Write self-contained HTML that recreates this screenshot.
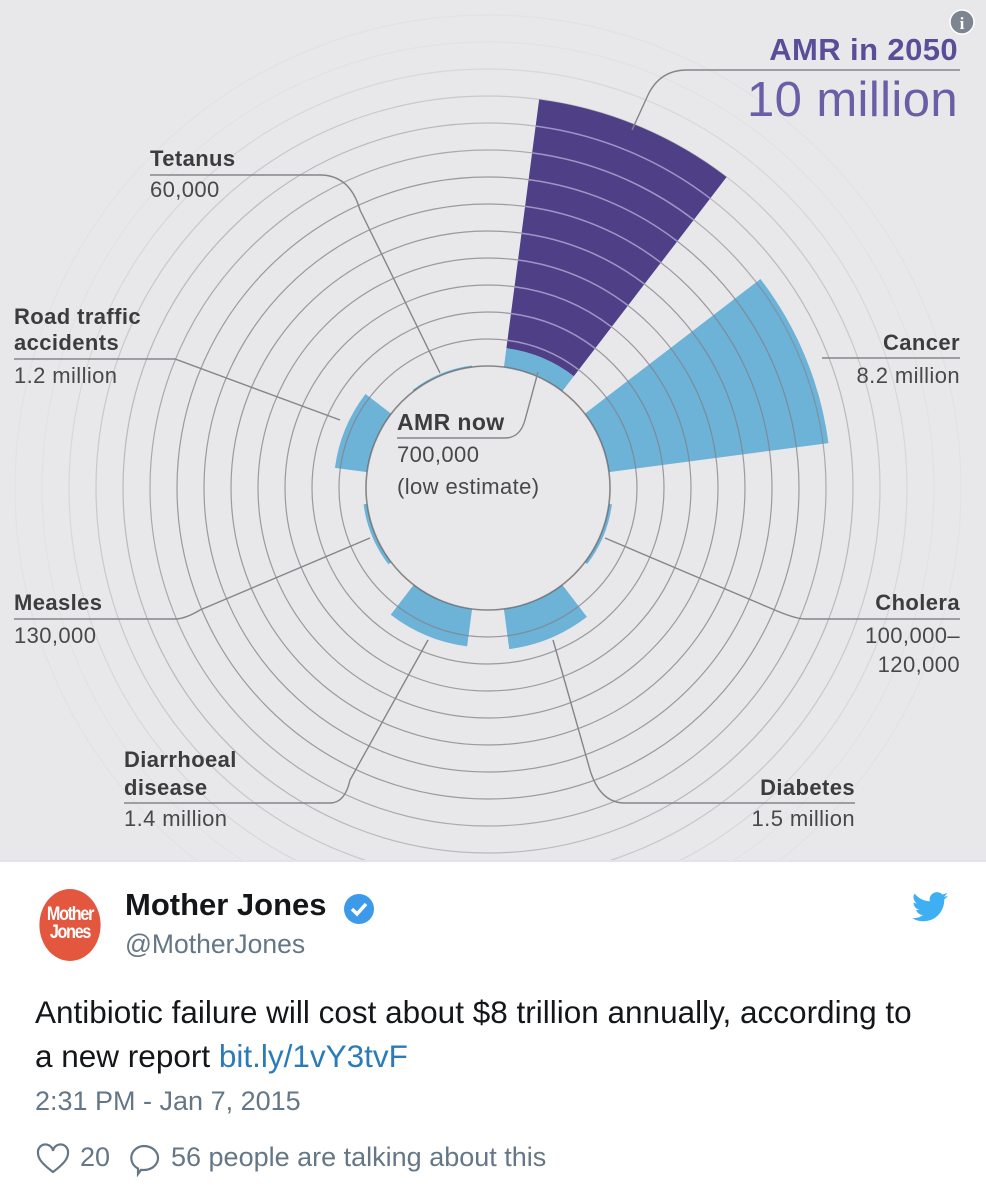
<!DOCTYPE html>
<html><head><meta charset="utf-8">
<style>
body{margin:0;width:986px;height:1192px;background:#fff;font-family:"Liberation Sans",sans-serif;overflow:hidden}
#chart{position:absolute;left:0;top:0;width:986px;height:860px;background:#e8e8ea;border-bottom:2px solid #e1e4e8}
.tw{position:absolute;font-family:"Liberation Sans",sans-serif;white-space:nowrap}
</style></head><body>
<div id="chart">
<svg id="svg" width="986" height="860"></svg>
</div>
<div class="tw" style="left:34px;top:889px;width:72px;height:72px;border-radius:50%;background:#e4573f;color:#fff;font-weight:bold;font-size:19px;line-height:18px;text-align:center;letter-spacing:-1.5px;padding-top:17px;box-sizing:border-box;transform:scaleX(0.85)">Mother<br>Jones</div>
<div class="tw" style="left:125px;top:887px;font-size:31px;font-weight:bold;color:#14171a">Mother Jones</div>
<svg class="tw" style="left:343px;top:893px" width="32" height="32" viewBox="0 0 32 32"><circle cx="16" cy="16" r="15" fill="#3d9ae8"/><path d="M9 16l5 5 9-10" stroke="#fff" stroke-width="3.5" fill="none"/></svg>
<div class="tw" style="left:125px;top:929px;font-size:26.5px;color:#657786">@MotherJones</div>
<svg class="tw" style="left:912px;top:892px" width="36" height="30" viewBox="0 0 24 20"><path d="M24 2.4c-.9.4-1.8.6-2.8.8 1-.6 1.8-1.6 2.2-2.7-1 .6-2 1-3.1 1.2A4.9 4.9 0 0 0 11.9 6.2 14 14 0 0 1 1.7 1 4.9 4.9 0 0 0 3.2 7.6c-.8 0-1.6-.2-2.2-.6 0 2.4 1.7 4.4 3.9 4.8-.7.2-1.5.2-2.2.1.6 2 2.4 3.4 4.6 3.4A9.9 9.9 0 0 1 0 17.3 14 14 0 0 0 7.5 19.5c9.1 0 14-7.5 14-14v-.6c1-.7 1.8-1.6 2.5-2.5z" fill="#1da1f2" opacity="0.85"/></svg>
<div class="tw" style="left:35px;top:990px;font-size:31.5px;line-height:44px;color:#14171a">Antibiotic failure will cost about $8 trillion annually, according to<br>a new report <span style="color:#2b7bb9">bit.ly/1vY3tvF</span></div>
<div class="tw" style="left:35px;top:1086px;font-size:27px;color:#657786">2:31 PM - Jan 7, 2015</div>
<svg class="tw" style="left:36px;top:1143px" width="34" height="32" viewBox="0 0 34 32"><path d="M17 29C5 20 2 15 2 10a7 7 0 0 1 15-2 7 7 0 0 1 15 2c0 5-3 10-15 19z" fill="none" stroke="#657786" stroke-width="2.2"/></svg>
<div class="tw" style="left:80px;top:1142px;font-size:27px;color:#657786">20</div>
<svg class="tw" style="left:128px;top:1143px" width="34" height="34" viewBox="0 0 34 34"><path d="M16 3a14 12 0 1 1 0 24c-1 0-2 0-3-.2L10 31v-5.5A13 12 0 0 1 16 3z" fill="none" stroke="#657786" stroke-width="2.2"/></svg>
<div class="tw" style="left:171px;top:1142px;font-size:27px;color:#657786">56 people are talking about this</div>
<script>
const categories=["AMR in 2050","Cancer","Cholera","Diabetes","Diarrhoeal disease","Measles","Road traffic accidents","Tetanus"];
const values=[10,8.2,0.11,1.5,1.4,0.13,1.2,0.06];
const amrNow=[0.7];
const ringCount=13;
const NS="http://www.w3.org/2000/svg";
const svg=document.getElementById('svg');
const cx=488,cy=488,r0=122,scale=27;
function rad(v){return r0+v*scale;}
function pt(r,a){const t=a*Math.PI/180;return [cx+r*Math.sin(t),cy-r*Math.cos(t)];}
function angC(i){return i*45+22.5;}
function sector(v1,v2,a1,a2){const ri=rad(v1),ro=rad(v2);const p1=pt(ri,a1),p2=pt(ro,a1),p3=pt(ro,a2),p4=pt(ri,a2);
return `M${p1}L${p2}A${ro},${ro} 0 0 1 ${p3}L${p4}A${ri},${ri} 0 0 0 ${p1}Z`;}
function add(tag,attrs){const e=document.createElementNS(NS,tag);for(const k in attrs)e.setAttribute(k,attrs[k]);svg.appendChild(e);return e;}
values.forEach((v,i)=>{
  const a1=angC(i)-15,a2=angC(i)+15;
  if(i===0){
    const e=add('path',{d:sector(amrNow[0],v,a1,a2),fill:'#4e3f86'});
    
    
    const n=add('path',{d:sector(0,amrNow[0],a1,a2),fill:'#6db2d7'});
    
    
  } else {
    const e=add('path',{d:sector(0,v,a1,a2),fill:'#6db2d7'});
    
    
  }
});
for(let k=0;k<=ringCount;k++){
  const op=k<=7?0.75:Math.max(0.06,0.75-(k-7)*0.15);
  const c=add('circle',{cx:cx,cy:cy,r:rad(k),fill:'none',stroke:k===0?'#666':'#808084','stroke-width':k===0?1.6:1.2,opacity:op});
  
  
}
for(let k=1;k<Math.floor(values[0]);k++){
  const r=rad(k),p1=pt(r,angC(0)-15),p2=pt(r,angC(0)+15);
  const e=add('path',{d:`M${p1}A${r},${r} 0 0 1 ${p2}`,fill:'none',stroke:'#9e94c6','stroke-width':1.5});
  
  
}
const leaders=[
 "M960,70 L687,70 Q660,70 648,95 L632,130",
 "M822,358 L960,358",
 "M805,619 L960,619 M805,619 Q795,619 770,608 L605,538",
 "M625,803 L855,803 M625,803 Q600,803 590,770 L553,640",
 "M124,803 L330,803 Q345,803 350,780 L428,640",
 "M14,619 L175,619 Q185,619 200,610 L370,538",
 "M14,359 L175,359 L340,420",
 "M150,175 L320,175 Q350,175 360,210 L440,373",
 "M397,438 L505,438 Q520,438 525,420 L538,372"
];
leaders.forEach(d=>{
  const e=add('path',{d:d,fill:'none',stroke:'#858589','stroke-width':1.4});
  
  
});
const labels=[
 {x:958,y:60,t:"AMR in 2050",s:31,w:'bold',c:'#5a4e98',a:'end',n:'amr-2050-label'},
 {x:958,y:116,t:"10 million",s:49,w:'normal',c:'#6a5ea6',a:'end',n:'amr-2050-value'},
 {x:150,y:166,t:"Tetanus",s:22,w:'bold',c:'#3c3c3e',a:'start',n:'tetanus-label'},
 {x:150,y:197,t:"60,000",s:22,w:'normal',c:'#48484a',a:'start',n:'tetanus-value'},
 {x:14,y:324,t:"Road traffic",s:22,w:'bold',c:'#3c3c3e',a:'start',n:'road-label'},
 {x:14,y:350,t:"accidents",s:22,w:'bold',c:'#3c3c3e',a:'start',n:'road-label-2'},
 {x:14,y:383,t:"1.2 million",s:22,w:'normal',c:'#48484a',a:'start',n:'road-value'},
 {x:960,y:350,t:"Cancer",s:22,w:'bold',c:'#3c3c3e',a:'end',n:'cancer-label'},
 {x:960,y:383,t:"8.2 million",s:22,w:'normal',c:'#48484a',a:'end',n:'cancer-value'},
 {x:397,y:430,t:"AMR now",s:23,w:'bold',c:'#3c3c3e',a:'start',n:'amr-now-label'},
 {x:397,y:462,t:"700,000",s:22,w:'normal',c:'#48484a',a:'start',n:'amr-now-value'},
 {x:397,y:494,t:"(low estimate)",s:22,w:'normal',c:'#48484a',a:'start',n:'amr-now-note'},
 {x:14,y:610,t:"Measles",s:22,w:'bold',c:'#3c3c3e',a:'start',n:'measles-label'},
 {x:14,y:643,t:"130,000",s:22,w:'normal',c:'#48484a',a:'start',n:'measles-value'},
 {x:960,y:610,t:"Cholera",s:22,w:'bold',c:'#3c3c3e',a:'end',n:'cholera-label'},
 {x:960,y:643,t:"100,000–",s:22,w:'normal',c:'#48484a',a:'end',n:'cholera-value'},
 {x:960,y:672,t:"120,000",s:22,w:'normal',c:'#48484a',a:'end',n:'cholera-value-2'},
 {x:124,y:767,t:"Diarrhoeal",s:22,w:'bold',c:'#3c3c3e',a:'start',n:'diarrhoeal-label'},
 {x:124,y:795,t:"disease",s:22,w:'bold',c:'#3c3c3e',a:'start',n:'diarrhoeal-label-2'},
 {x:124,y:826,t:"1.4 million",s:22,w:'normal',c:'#48484a',a:'start',n:'diarrhoeal-value'},
 {x:855,y:795,t:"Diabetes",s:22,w:'bold',c:'#3c3c3e',a:'end',n:'diabetes-label'},
 {x:855,y:826,t:"1.5 million",s:22,w:'normal',c:'#48484a',a:'end',n:'diabetes-value'}
];
labels.forEach(l=>{
  const e=add('text',{x:l.x,y:l.y,'font-size':l.s,'font-weight':l.w,fill:l.c,'text-anchor':l.a,'font-family':'Liberation Sans, sans-serif','letter-spacing':'0.4'});
  e.textContent=l.t;
  
  
});
const ic=add('circle',{cx:962,cy:22,r:12,fill:'#7d8690',stroke:'#fff','stroke-width':1.5});


const it=add('text',{x:962,y:29,'font-size':17,'font-weight':'bold',fill:'#fff','text-anchor':'middle','font-family':'Liberation Serif, serif'});
it.textContent='i';


</script>
</body></html>
